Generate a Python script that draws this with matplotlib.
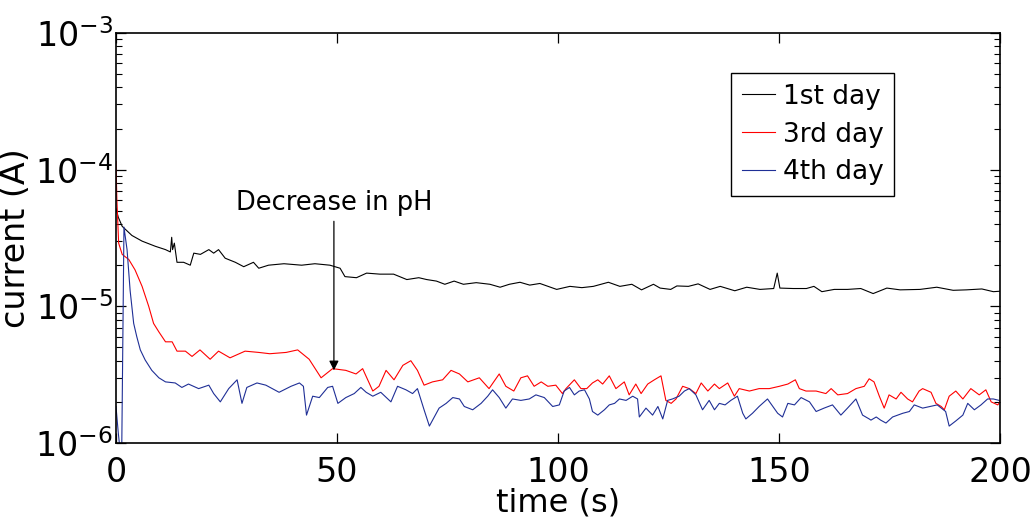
import matplotlib
matplotlib.use("Agg")
import matplotlib.pyplot as plt
import numpy as np

# ---- data (current in microamps) ----
t_day1 = [0, 0.5, 1.4, 3.6, 5.9, 8.9, 11.2, 12.3, 12.6, 12.8, 13.2, 13.8, 15.3, 16.8, 17.6, 19.1,
          21, 22.1, 23.2, 24.7, 27, 28.9, 31.1, 32.3, 34.5, 38, 42, 45, 48.4, 50.7, 51.8, 54.4,
          56.7, 59.7, 62.8, 65.8, 68.5, 70.3, 72.5, 74.4, 76.5, 78.6, 81.5, 84.6, 86.9, 89,
          91.4, 93.6, 95.9, 99.7, 102.7, 105.4, 108, 111.4, 114, 116.7, 118.9, 121.6, 123.1,
          125.5, 126.9, 129.5, 131.7, 134.4, 136.7, 140, 142.7, 145.7, 148.8, 149.6, 150.2,
          153.2, 156.2, 157.9, 159.7, 162.5, 165.5, 168.5, 171.3, 174.4, 177.4, 181.9, 185.7,
          189.4, 192.4, 195.9, 198.5, 200]
i_day1 = [52, 45, 38.5, 33, 30, 27.5, 26, 25, 32, 26, 29, 21, 21, 20, 24.5, 24,
          26, 24.5, 26, 22.5, 21, 19.5, 21, 19, 20, 20.5, 20, 20.5, 20, 19, 16.5, 16.2,
          17.5, 17.2, 17.2, 15.7, 16.2, 15.7, 15.3, 14.5, 15.3, 14.5, 14.9, 14.5, 13.8, 14.5,
          15, 14.3, 14.7, 13.3, 14, 13.7, 14, 15, 14, 14.5, 13.2, 14.5, 13.6,
          13.3, 14.1, 14, 14.6, 13.3, 14, 13, 13.8, 13.3, 13.5, 17.5, 13.6,
          13.5, 13.5, 14, 12.8, 13.3, 13.3, 13.5, 12.4, 13.6, 13.2, 13.3, 13.8,
          13.1, 13.2, 13.4, 12.8, 12.9]

t_day3 = [0, 0.2, 0.6, 1.4, 2.9, 4.3, 5.9, 7.4, 8.5, 9.7, 11.2, 12.7, 13.8, 15.7, 17.2, 19,
          21.3, 23.2, 25.8, 29.2, 32.3, 34.8, 38.5, 41.1, 43.7, 46.4, 49, 52, 54.3, 55.8,
          58.1, 59.5, 61.1, 62.9, 64.9, 66.7, 68.2, 69.7, 71.6, 73.9, 75.8, 77.7, 79.6, 82.2,
          84.4, 86.7, 88.2, 90, 91.6, 93.1, 94.6, 96.2, 97.7, 99.5, 101, 101.8, 103.7, 105.2,
          106.5, 107.8, 109, 110.1, 111.6, 113.1, 115, 116.1, 117.6, 118.8, 120.3, 121.8,
          123.3, 124.4, 125.6, 126.7, 128.2, 129.7, 131.2, 132.4, 133.9, 135.4, 136.5, 138.4,
          139.9, 141, 143.3, 145.5, 147.8, 150.1, 152, 153.7, 154.6, 156.1, 158.4, 160.6,
          161.8, 163.3, 165.5, 167.4, 169.3, 170.4, 171.5, 172.7, 173.8, 174.9, 176.5, 177.6,
          179.1, 180.2, 181.7, 182.5, 184.4, 185.5, 186.7, 187.4, 188.5, 190, 191.6, 193.4,
          195.3, 196.8, 198, 199.5, 200]
i_day3 = [115, 60, 29, 24, 22, 18.5, 14, 10, 7.5, 6.5, 5.5, 5.5, 4.7, 4.7, 4.3, 4.8,
          4.1, 4.7, 4.2, 4.7, 4.6, 4.5, 4.6, 4.8, 4.1, 3.0, 3.5, 3.4, 3.2, 3.5,
          2.4, 2.6, 3.4, 2.9, 3.7, 4.0, 3.4, 2.65, 2.8, 2.9, 3.4, 3.2, 2.8, 3.0,
          2.5, 3.2, 2.6, 2.4, 3.0, 3.1, 2.6, 2.8, 2.6, 2.65, 2.3, 2.5, 2.9, 2.5,
          2.5, 2.75, 2.9, 2.7, 3.1, 2.5, 2.8, 2.25, 2.7, 2.3, 2.7, 2.9,
          3.1, 2.05, 1.95, 2.1, 2.6, 2.5, 2.3, 2.75, 2.4, 2.7, 2.5, 2.75,
          2.2, 2.5, 2.4, 2.5, 2.5, 2.6, 2.7, 2.9, 2.5, 2.4, 2.4, 2.3,
          2.5, 2.25, 2.3, 2.5, 2.6, 2.95, 2.8, 2.2, 1.8, 2.25, 2.1, 2.35,
          2.1, 2.0, 2.4, 2.5, 2.35, 1.95, 1.85, 1.75, 2.2, 2.4, 2.1, 2.5,
          2.25, 2.45, 2.0, 1.9, 2.0]

t_day4 = [0, 0.5, 0.9, 1.3, 1.8, 2.5, 3.2, 4.0, 4.7, 5.5, 6.6, 8.1, 9.7, 11.2, 13.4, 14.9,
          16.4, 18.7, 21, 22.1, 23.6, 25.5, 27.4, 28.5, 29.6, 31.9, 33.9, 36.9, 39.6, 41.5,
          42.4, 43.1, 44.5, 46, 47.9, 49, 50.2, 52, 53.9, 55.4, 56.6, 58.1, 59.9, 62.2, 63.7,
          65.6, 67.1, 68.2, 69.7, 70.9, 72, 73.1, 74.7, 76.2, 77.7, 78.8, 80.7, 82.6, 84.1,
          85.2, 86.7, 88.2, 89.7, 91.6, 93.5, 95, 96.9, 98.8, 100.3, 101.4, 102.6, 103.7,
          104.8, 106, 107.1, 107.8, 109, 110.5, 111.6, 112.8, 113.9, 115.4, 116.9, 118, 118.4,
          119.9, 121.4, 122.6, 123.7, 124.8, 125.9, 127.4, 128.6, 129.7, 131.2, 132.7, 134.2,
          135.4, 136.5, 137.8, 139.1, 140.6, 141.8, 142.5, 144, 145.5, 147.4, 148.6, 149.7,
          150.8, 152, 153.5, 155, 156.9, 158.4, 160.2, 162.1, 164, 165.5, 167.4, 168.9, 170.4,
          170.8, 172, 173, 174.2, 175.7, 178, 179.5, 180.6, 182.5, 184.2, 185.8, 187.7, 188.5,
          190, 191.6, 192.7, 194.2, 195.7, 197.2, 198.5, 199.8]
i_day4 = [1.85, 1.2, 0.9, 0.9, 38, 26, 13, 7.5, 6, 4.8, 4.05, 3.4, 3.0, 2.8, 2.75, 2.55,
          2.7, 2.5, 2.65, 2.3, 2.0, 2.5, 2.9, 1.95, 2.55, 2.75, 2.65, 2.35, 2.6, 2.75,
          2.6, 1.6, 2.2, 2.15, 2.55, 2.6, 1.95, 2.15, 2.3, 2.55, 2.35, 2.2, 2.35, 2.0, 2.6,
          2.45, 2.3, 2.5, 1.75, 1.33, 1.55, 1.8, 1.95, 2.15, 2.1, 1.85, 1.75, 1.95, 2.2,
          2.45, 2.15, 1.8, 2.1, 2.05, 2.1, 2.25, 2.15, 1.85, 1.9, 2.4, 2.55, 2.25,
          2.4, 2.45, 2.1, 1.7, 1.6, 1.75, 1.9, 1.95, 2.1, 2.05, 2.2, 2.1, 1.55,
          1.8, 1.6, 1.85, 1.5, 2.05, 2.1, 2.2, 2.4, 2.5, 2.25, 1.75, 2.05,
          1.75, 1.95, 1.9, 2.05, 2.2, 1.65, 1.5, 1.65, 1.85, 2.1, 1.85, 1.65,
          1.55, 1.95, 1.9, 2.15, 2.0, 1.7, 1.8, 1.9, 1.6, 1.8, 2.1, 1.6, 1.5,
          1.47, 1.55, 1.47, 1.4, 1.55, 1.65, 1.7, 1.9, 1.8, 1.85, 1.9, 1.7, 1.33,
          1.45, 1.6, 1.95, 1.75, 1.9, 2.1, 2.1, 2.05]

labels = ["1st day", "3rd day", "4th day"]
x_ticks = [0, 50, 100, 150, 200]
annot_text = "Decrease in pH"
annot_xy = (49.3, 3.4e-6)
annot_text_xy = (49.3, 4.6e-5)

plt.rcParams['font.family'] = ['DejaVu Sans']
plt.rcParams['mathtext.fontset'] = 'dejavusans'

fig = plt.figure(figsize=(10.31, 5.18), dpi=100)
ax = fig.add_axes([116 / 1031, 1 - 443 / 518, (1000 - 116) / 1031, (443 - 33) / 518])

uA = 1e-6
ax.plot(t_day1, np.array(i_day1) * uA, color='black', lw=0.8, label=labels[0])
ax.plot(t_day3, np.array(i_day3) * uA, color='#ff0000', lw=0.8, label=labels[1])
ax.plot(t_day4, np.array(i_day4) * uA, color='#1f2f96', lw=0.8, label=labels[2])

ax.set_yscale('log')
ax.set_xlim(0, 200)
ax.set_ylim(1e-6, 1e-3)
ax.set_xticks(x_ticks)
ax.set_xticklabels([str(v) for v in x_ticks])

ax.tick_params(axis='both', which='both', direction='in', top=True, right=True,
               labelsize=24)
ax.tick_params(axis='both', which='major', length=7, width=0.9)
ax.tick_params(axis='both', which='minor', length=4, width=0.8)
ax.tick_params(axis='y', which='major', pad=2)
ax.tick_params(axis='x', which='major', pad=9)
for s in ax.spines.values():
    s.set_linewidth(1.2)

ax.set_xlabel("time (s)", fontsize=23, labelpad=-1)
ax.set_ylabel("current (A)", fontsize=24, labelpad=2)

leg = ax.legend(loc='upper right', bbox_to_anchor=(0.880, 0.902), borderaxespad=0,
                fontsize=19, fancybox=False, edgecolor='black', framealpha=1,
                handlelength=1.25, handletextpad=0.3, labelspacing=0.45,
                borderpad=0.4)
leg.get_frame().set_linewidth(1.0)

ax.annotate(annot_text, xy=annot_xy, xytext=annot_text_xy, ha='center', va='bottom',
            fontsize=18.5,
            arrowprops=dict(arrowstyle='-|>', color='black', lw=0.9,
                            mutation_scale=14, shrinkA=2, shrinkB=0))

fig.savefig("out.png", dpi=100)
